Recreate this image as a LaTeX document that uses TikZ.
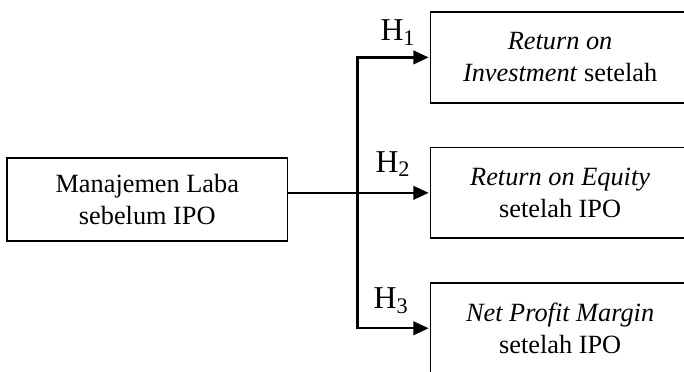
\documentclass[tikz,border=0pt]{standalone}
\usepackage{fontspec}
\setmainfont{Liberation Serif}
\usetikzlibrary{arrows.meta}

\begin{document}
\begin{tikzpicture}[font=\fontsize{12}{14.6}\selectfont,
		kotak/.style={draw, line width=0.8pt, align=center},
		kanan/.style={kotak, minimum width=4.15cm, minimum height=1.45cm},
		garis/.style={line width=1.1pt},
		panah/.style={garis, -{Triangle[length=7pt,width=6.2pt]}, shorten >=0.5pt},
		hipo/.style={anchor=base west, inner sep=0pt, font=\fontsize{14.5}{16}\selectfont}]
			\useasboundingbox (0,0) rectangle (10.96,5.95);
			\clip (0,0) rectangle (10.96,5.95);
			% variabel independen
			\node[kotak, minimum width=4.49cm, minimum height=1.33cm] (mlaba) at (2.36,2.75) {Manajemen Laba\\sebelum IPO};
			% variabel dependen
			\node[kanan] (roi) at (8.975,5.03) {\textit{Return on}\\\textit{Investment} setelah};
			\node[kanan] (roe) at (8.975,2.86) {\textit{Return on Equity}\\setelah IPO};
			\node[kanan] (npm) at (8.975,0.69) {\textit{Net Profit Margin}\\setelah IPO};
			% percabangan
			\coordinate (cabang) at ([xshift=-1.16cm]roe.west);
			\draw[garis] (mlaba.east |- cabang) -- (cabang);
			\draw[panah] (cabang) |- (roi.west);
			\draw[panah] (cabang) -- (roe.west);
			\draw[panah] (cabang) |- (npm.west);
			% hipotesis
			\node[hipo] (h1) at (6.09,5.30) {H\textsubscript{1}};
			\node[hipo] (h2) at (6.01,3.19) {H\textsubscript{2}};
			\node[hipo] (h3) at (5.98,1.01) {H\textsubscript{3}};
		\end{tikzpicture}
\end{document}
